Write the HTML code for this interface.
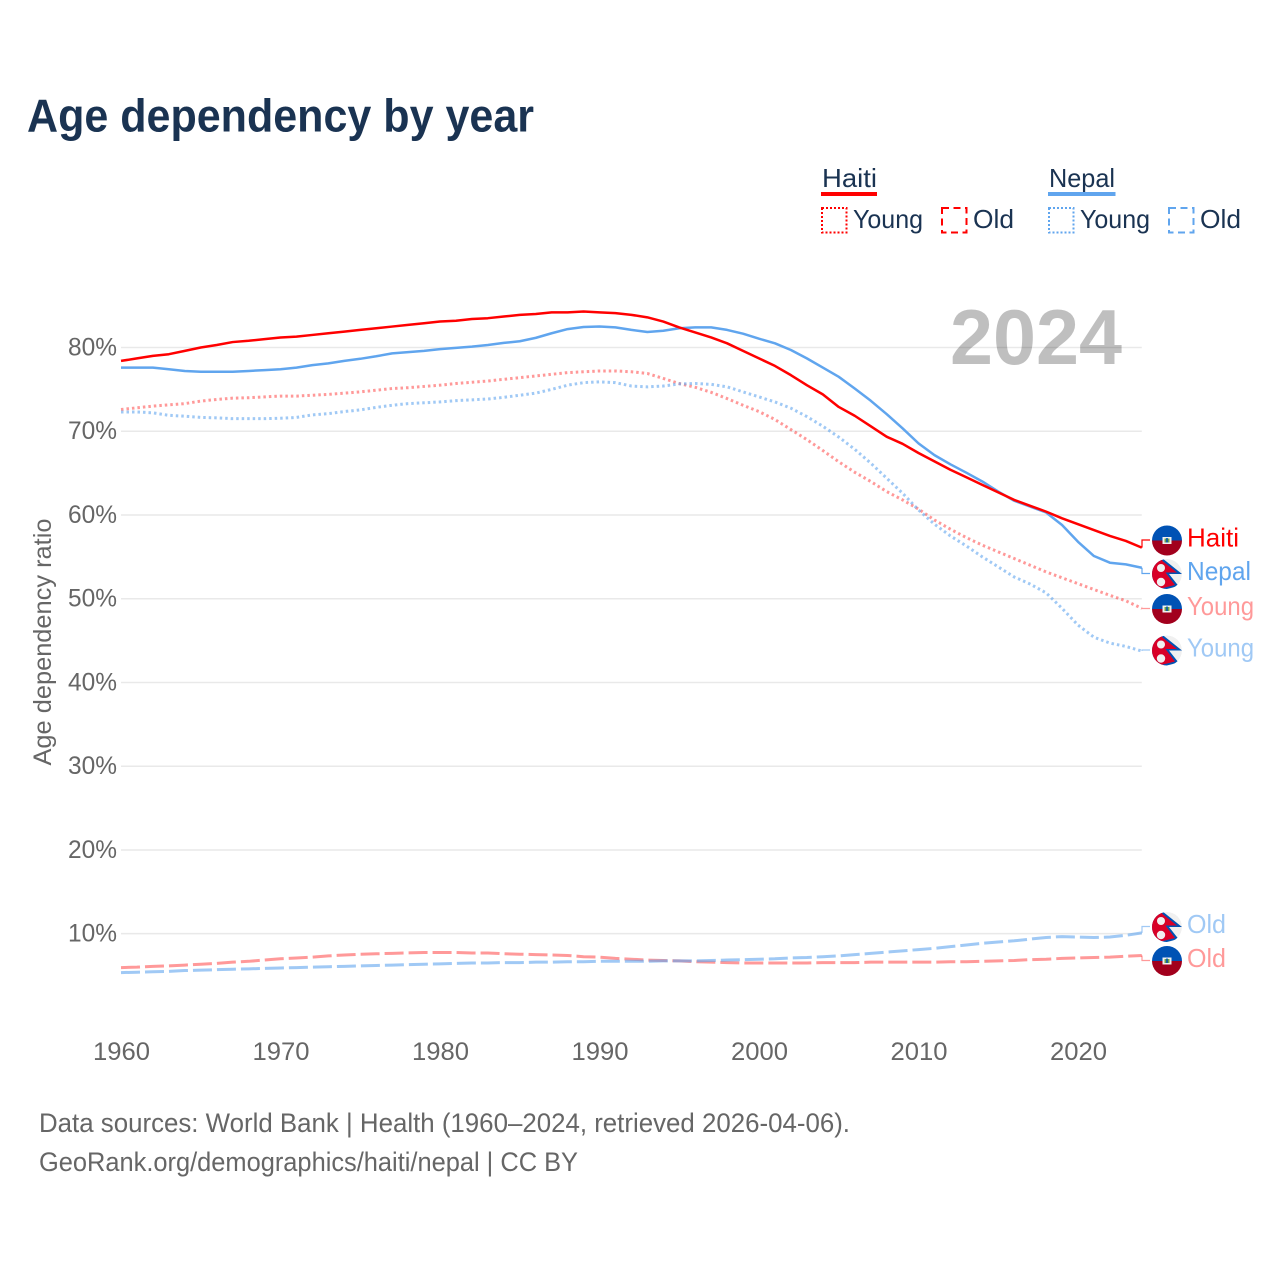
<!DOCTYPE html>
<html lang="en">
<head>
<meta charset="utf-8">
<title>Age dependency by year</title>
<style>
html,body{margin:0;padding:0;background:#fff;}
svg{display:block;}
text{font-family:"Liberation Sans",sans-serif;}
</style>
</head>
<body>
<svg id="chart" width="1280" height="1280" viewBox="0 0 1280 1280" xmlns="http://www.w3.org/2000/svg">
<defs>
<clipPath id="flag-clip"><circle cx="0" cy="0" r="15"/></clipPath>
<symbol id="flag-haiti" overflow="visible">
<g clip-path="url(#flag-clip)">
<rect x="-15" y="-15" width="30" height="15" fill="#0052b4"/>
<rect x="-15" y="0" width="30" height="15" fill="#a2001d"/>
<rect x="-4.500" y="-3.500" width="9" height="7" fill="#f0f0f0"/>
<rect x="-2.500" y="-2" width="5" height="4" fill="#6da544"/>
<rect x="-0.800" y="-2.500" width="1.600" height="4.500" fill="#0052b4"/>
</g>
</symbol>
<symbol id="flag-nepal" overflow="visible">
<g clip-path="url(#flag-clip)">
<circle r="15" fill="#f0f0f0"/>
<path d="M-5 -16 L15 0 L2 0 L11.500 12 L-4 16 L-16 16 L-16 -16 Z" fill="#0052b4"/>
<path d="M-6 -16 L-4.500 -13 L10 -1.500 L-1.500 -1.500 L8 11 L-4 14 L-16 16 L-16 -16 Z" fill="#d80027"/>
<circle cx="-6" cy="-6" r="4" fill="#f0f0f0"/>
<circle cx="-6" cy="8" r="4.200" fill="#f0f0f0"/>
</g>
</symbol>
</defs>

<rect x="0" y="0" width="1280" height="1280" fill="#ffffff"/>

<text x="27" y="131.500" font-size="46" font-weight="700" fill="#1a3352" textLength="507" lengthAdjust="spacingAndGlyphs">Age dependency by year</text>

<g font-size="26" fill="#1a3352">
<g>
<text x="822" y="187" textLength="55" lengthAdjust="spacingAndGlyphs">Haiti</text>
<rect x="821" y="192" width="56" height="4" fill="#ff0000"/>
<rect x="822" y="208" width="24.500" height="24.500" fill="none" stroke="#ff0000" stroke-width="2" stroke-dasharray="2 2"/>
<text x="853" y="228" textLength="70" lengthAdjust="spacingAndGlyphs">Young</text>
<rect x="942" y="208" width="24.500" height="24.500" fill="none" stroke="#ff0000" stroke-width="2" stroke-dasharray="7 4.500"/>
<text x="973" y="228" textLength="41" lengthAdjust="spacingAndGlyphs">Old</text>
</g>
<g>
<text x="1049" y="187" textLength="66" lengthAdjust="spacingAndGlyphs">Nepal</text>
<rect x="1048" y="192" width="67.500" height="4" fill="#60a5ee"/>
<rect x="1049" y="208" width="24.500" height="24.500" fill="none" stroke="#60a5ee" stroke-width="2" stroke-dasharray="2 2"/>
<text x="1080" y="228" textLength="70" lengthAdjust="spacingAndGlyphs">Young</text>
<rect x="1169" y="208" width="24.500" height="24.500" fill="none" stroke="#60a5ee" stroke-width="2" stroke-dasharray="7 4.500"/>
<text x="1200" y="228" textLength="41" lengthAdjust="spacingAndGlyphs">Old</text>
</g>
</g>

<g id="grid"></g>
<g id="y-ticks"></g>
<g id="x-ticks"></g>

<text transform="translate(51 642) rotate(-90)" text-anchor="middle" font-size="25" fill="#666666" textLength="247" lengthAdjust="spacingAndGlyphs">Age dependency ratio</text>

<text x="950" y="364" font-size="78" font-weight="700" fill="#000000" fill-opacity="0.25" textLength="172" lengthAdjust="spacingAndGlyphs">2024</text>

<g id="series"></g>
<g id="end-labels"></g>

<g font-size="27" fill="#666666">
<text x="39" y="1132" textLength="811" lengthAdjust="spacingAndGlyphs">Data sources: World Bank | Health (1960–2024, retrieved 2026-04-06).</text>
<text x="39" y="1171" textLength="539" lengthAdjust="spacingAndGlyphs">GeoRank.org/demographics/haiti/nepal | CC BY</text>
</g>
</svg>

<script>
const startYear = 1960;
const yTickValues = [80, 70, 60, 50, 40, 30, 20, 10];
const xTickYears = [1960, 1970, 1980, 1990, 2000, 2010, 2020];

const haitiTotal = [78.4,78.7,79.0,79.2,79.6,80.0,80.3,80.65,80.8,81.0,
81.2,81.3,81.5,81.7,81.9,82.1,82.3,82.5,82.7,82.9,
83.1,83.2,83.4,83.5,83.7,83.9,84.0,84.2,84.2,84.3,
84.2,84.1,83.9,83.6,83.1,82.4,81.8,81.2,80.5,79.6,
78.7,77.8,76.7,75.5,74.4,72.9,71.85,70.6,69.35,68.5,
67.4,66.4,65.4,64.5,63.6,62.7,61.8,61.1,60.4,59.6,
58.9,58.2,57.5,56.9,56.1];

const nepalTotal = [77.6,77.6,77.6,77.4,77.2,77.1,77.1,77.1,77.2,77.3,
77.4,77.6,77.9,78.1,78.4,78.65,78.95,79.3,79.45,79.6,
79.8,79.95,80.1,80.3,80.55,80.75,81.15,81.7,82.2,82.45,
82.5,82.4,82.1,81.85,82.0,82.3,82.4,82.4,82.1,81.65,
81.05,80.5,79.7,78.7,77.6,76.5,75.1,73.65,72.05,70.35,
68.55,67.15,66.05,65.05,64.0,62.8,61.7,61.0,60.3,58.8,
56.8,55.1,54.3,54.1,53.7];

const haitiYoung = [72.6,72.8,73.0,73.15,73.3,73.6,73.8,73.95,74.0,74.1,
74.2,74.2,74.3,74.4,74.55,74.7,74.9,75.1,75.2,75.35,
75.5,75.7,75.85,76.0,76.2,76.4,76.6,76.8,77.0,77.1,
77.2,77.2,77.1,76.9,76.3,75.7,75.25,74.65,73.9,73.1,
72.35,71.4,70.2,69.0,67.7,66.35,65.1,64.0,62.8,61.8,
60.7,59.4,58.3,57.3,56.4,55.6,54.8,54.0,53.2,52.5,
51.8,51.1,50.4,49.75,48.85];

const nepalYoung = [72.3,72.3,72.2,71.9,71.8,71.65,71.6,71.5,71.5,71.5,
71.55,71.65,71.95,72.1,72.35,72.55,72.85,73.1,73.3,73.4,
73.5,73.65,73.75,73.85,74.05,74.3,74.55,75.0,75.5,75.8,
75.9,75.8,75.4,75.3,75.4,75.65,75.7,75.6,75.3,74.7,
74.1,73.5,72.75,71.75,70.6,69.3,67.85,66.2,64.4,62.6,
60.6,58.9,57.5,56.3,55.0,53.8,52.6,51.75,50.7,48.85,
46.85,45.4,44.7,44.3,43.75];

const haitiOld = [5.95,6.0,6.1,6.15,6.25,6.35,6.45,6.6,6.7,6.85,
7.0,7.1,7.2,7.35,7.45,7.55,7.6,7.65,7.7,7.75,
7.75,7.75,7.7,7.7,7.6,7.55,7.5,7.45,7.4,7.25,
7.2,7.05,6.95,6.85,6.8,6.75,6.65,6.6,6.55,6.5,
6.5,6.5,6.5,6.5,6.55,6.55,6.55,6.6,6.6,6.6,
6.6,6.6,6.65,6.65,6.7,6.75,6.8,6.9,6.95,7.05,
7.1,7.15,7.2,7.3,7.4];

const nepalOld = [5.35,5.4,5.45,5.5,5.6,5.65,5.7,5.75,5.8,5.85,
5.9,5.95,6.0,6.05,6.1,6.15,6.2,6.25,6.3,6.35,
6.4,6.45,6.5,6.5,6.55,6.55,6.6,6.6,6.65,6.65,
6.7,6.7,6.7,6.7,6.75,6.75,6.75,6.8,6.85,6.9,
6.95,7.0,7.1,7.15,7.25,7.35,7.5,7.65,7.8,7.95,
8.1,8.25,8.45,8.65,8.85,9.0,9.15,9.35,9.55,9.65,
9.6,9.55,9.6,9.8,10.1];

const SVG_NS = 'http://www.w3.org/2000/svg';
function xScale(year) { return 121 + (year - 1960) * 15.95; }
function yScale(value) { return 347.5 + (80 - value) * 8.374; }
function make(tag, parent) {
  const el = document.createElementNS(SVG_NS, tag);
  parent.appendChild(el);
  return el;
}

const gridGroup = document.getElementById('grid');
const yTickGroup = document.getElementById('y-ticks');
yTickValues.forEach(function (v) {
  const line = make('line', gridGroup);
  
  
  line.setAttribute('x1', xScale(1960));
  line.setAttribute('x2', xScale(2024));
  line.setAttribute('y1', yScale(v));
  line.setAttribute('y2', yScale(v));
  line.setAttribute('stroke', '#e9e9e9');
  line.setAttribute('stroke-width', '1.5');
  const label = make('text', yTickGroup);
  
  
  label.setAttribute('x', 68);
  label.setAttribute('y', yScale(v) + 8);
  label.setAttribute('font-size', '25');
  label.setAttribute('fill', '#666666');
  label.setAttribute('textLength', '49');
  label.setAttribute('lengthAdjust', 'spacingAndGlyphs');
  label.textContent = v + '%';
});

const xTickGroup = document.getElementById('x-ticks');
xTickYears.forEach(function (yr) {
  const label = make('text', xTickGroup);
  
  
  label.setAttribute('x', xScale(yr) - 28);
  label.setAttribute('y', 1060);
  label.setAttribute('font-size', '25');
  label.setAttribute('fill', '#666666');
  label.setAttribute('textLength', '57');
  label.setAttribute('lengthAdjust', 'spacingAndGlyphs');
  label.textContent = yr;
});

function drawSeries(name, values, color, opacity, dash, width) {
  const group = document.getElementById('series');
  const path = make('path', group);
  
  
  path.setAttribute('d', values.map(function (v, i) {
    return (i ? 'L' : 'M') + xScale(startYear + i).toFixed(2) + ' ' + yScale(v).toFixed(2);
  }).join(' '));
  path.setAttribute('fill', 'none');
  path.setAttribute('stroke', color);
  path.setAttribute('stroke-opacity', opacity);
  path.setAttribute('stroke-width', width);
  path.setAttribute('stroke-linejoin', 'round');
  if (dash) {
    path.setAttribute('stroke-dasharray', dash);
  }
}
drawSeries('line-haiti-old', haitiOld, '#ff0000', 0.4, '19 5', 3);
drawSeries('line-nepal-old', nepalOld, '#60a5ee', 0.6, '19 5', 3);
drawSeries('line-haiti-young', haitiYoung, '#ff0000', 0.4, '2.5 3', 3);
drawSeries('line-nepal-young', nepalYoung, '#60a5ee', 0.6, '2.5 3', 3);
drawSeries('line-nepal-total', nepalTotal, '#60a5ee', 1, null, 2.5);
drawSeries('line-haiti-total', haitiTotal, '#ff0000', 1, null, 2.5);

function drawEndLabel(name, flag, text, width, values, flagY, color, opacity) {
  const group = document.getElementById('end-labels');
  const last = values[values.length - 1];
  const connector = make('path', group);
  
  
  connector.setAttribute('d', 'M1142 ' + yScale(last).toFixed(2) + ' V' + (flagY - 0.5) + ' H1150');
  connector.setAttribute('fill', 'none');
  connector.setAttribute('stroke', color);
  connector.setAttribute('stroke-opacity', opacity);
  connector.setAttribute('stroke-width', '1.2');
  const badge = make('use', group);
  
  
  badge.setAttribute('href', '#flag-' + flag);
  badge.setAttribute('x', 1167);
  badge.setAttribute('y', flagY);
  const label = make('text', group);
  
  
  label.setAttribute('x', 1187);
  label.setAttribute('y', flagY + 6);
  label.setAttribute('font-size', '26');
  label.setAttribute('fill', color);
  label.setAttribute('fill-opacity', opacity);
  label.setAttribute('textLength', width);
  label.setAttribute('lengthAdjust', 'spacingAndGlyphs');
  label.textContent = text;
}
drawEndLabel('end-haiti-total', 'haiti', 'Haiti', 52, haitiTotal, 540.5, '#ff0000', 1);
drawEndLabel('end-nepal-total', 'nepal', 'Nepal', 64, nepalTotal, 574, '#60a5ee', 1);
drawEndLabel('end-haiti-young', 'haiti', 'Young', 67, haitiYoung, 609, '#ff0000', 0.4);
drawEndLabel('end-nepal-young', 'nepal', 'Young', 67, nepalYoung, 650.5, '#60a5ee', 0.6);
drawEndLabel('end-nepal-old', 'nepal', 'Old', 39, nepalOld, 927, '#60a5ee', 0.6);
drawEndLabel('end-haiti-old', 'haiti', 'Old', 39, haitiOld, 961, '#ff0000', 0.4);
</script>
</body>
</html>
